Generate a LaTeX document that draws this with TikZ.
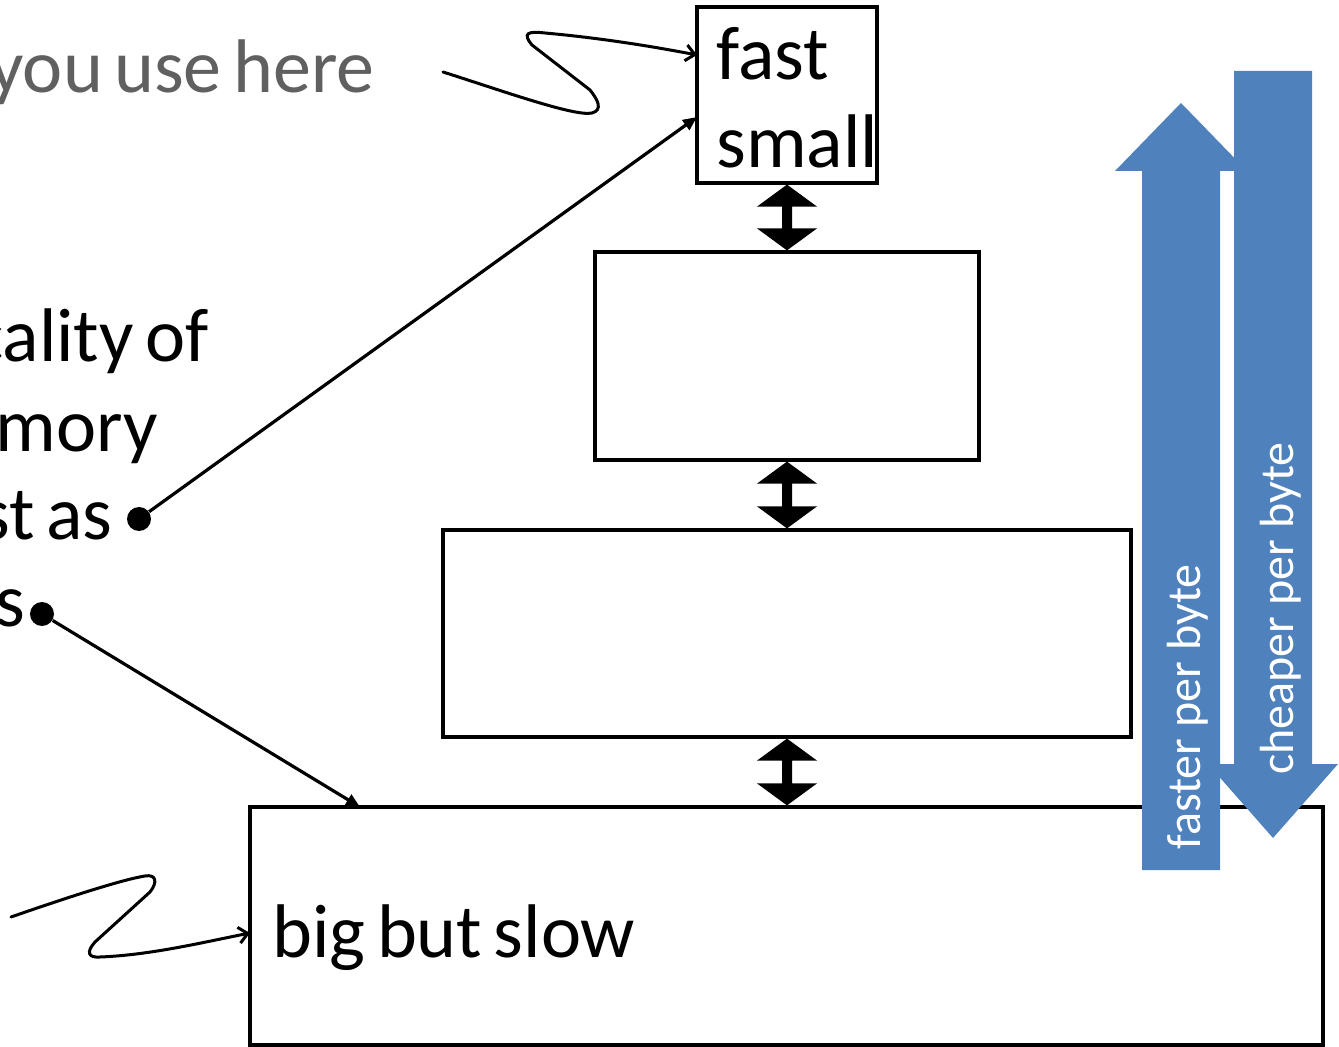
\documentclass[tikz,border=0pt]{standalone}
\usepackage{fontspec}
\setmainfont{Carlito}
\usetikzlibrary{arrows.meta,calc}
\definecolor{slateblue}{HTML}{4F81BD}
\definecolor{notegray}{HTML}{606060}
% large slide type with tighter word spacing
\newcommand{\slidetype}{\fontsize{38}{46}\selectfont\spaceskip 5.8pt\relax}
\tikzset{
  memlevel/.style={draw, line width=1.6pt, inner sep=0pt, fill=none},
  bigtext/.style={inner sep=0pt, font=\slidetype},
  bandtext/.style={inner sep=0pt, text=white, rotate=90, anchor=base west,
                   font=\fontsize{24}{29}\selectfont},
  dot/.style={circle, fill=black, inner sep=0pt, minimum size=12pt},
  pointer/.style={line width=1.6pt, -{Triangle[length=7pt,width=6pt]}},
  squiggle/.style={line width=1.5pt, line cap=round,
                   -{Straight Barb[length=4.5pt,width=8pt]}},
  transfer/.style={fill=black},
}
% double-headed block arrow between the bottom of one level and the top of the next
\newcommand{\levellink}[2]{%
  \fill[transfer] let \p1=(#1.south), \p2=(#2.north) in
    (\x1,\y1) -- (\x1+15pt,\y1-11pt) -- (\x1+2.5pt,\y1-11pt)
    -- (\x1+2.5pt,\y2+11pt) -- (\x1+15pt,\y2+11pt) -- (\x1,\y2)
    -- (\x1-15pt,\y2+11pt) -- (\x1-2.5pt,\y2+11pt)
    -- (\x1-2.5pt,\y1-11pt) -- (\x1-15pt,\y1-11pt) -- cycle;}
\begin{document}
\begin{tikzpicture}[x=0.5pt,y=-0.5pt]
\useasboundingbox (0,0) rectangle (1339,1047);
\clip (0,0) rectangle (1339,1047);
\fill[white] (0,0) rectangle (1339,1047);

% memory levels
\node[memlevel, minimum width=90pt, minimum height=88pt] (fast) at (787,95) {};
\node[memlevel, minimum width=192pt, minimum height=104pt] (mid) at (787,356) {};
\node[memlevel, minimum width=344pt, minimum height=103.5pt] (low) at (787,633.5) {};
\node[memlevel, minimum width=536.5pt, minimum height=119pt] (big) at (786.5,926) {};

\node[bigtext, anchor=base west] (fastlbl) at (716,80) {fast};
\node[bigtext, anchor=base west] (smalllbl) at (716,168) {small};
\node[bigtext, anchor=base west] (biglbl) at (272,957) {big but slow};

% transfers between adjacent levels
\levellink{fast}{mid}
\levellink{mid}{low}
\levellink{low}{big}

% side bands
\fill[slateblue] (1142,870) -- (1142,171) -- (1115,171) -- (1181,103)
  -- (1247,171) -- (1220,171) -- (1220,870) -- cycle;
\fill[slateblue] (1234,71) -- (1312,71) -- (1312,764) -- (1338,764)
  -- (1273,838) -- (1208,764) -- (1234,764) -- cycle;
\node[bandtext] (faster) at (1200,850) {faster per byte};
\node[bandtext] (cheaper) at (1293,775) {cheaper per byte};

% text on the left
\node[bigtext, anchor=base east, text=notegray] (usehere) at (375,93) {you use here};
\node[bigtext, anchor=base east] (line1) at (209,362) {cality of};
\node[bigtext, anchor=base east] (line2) at (158,452) {emory};
\node[bigtext, anchor=base east] (line3) at (113,540) {st as};
\node[bigtext, anchor=base east] (line4) at (26,627) {s};

% bullets and pointers
\node[dot] (d1) at (139,519) {};
\node[dot] (d2) at (42,614) {};
\coordinate (fastin) at (697,117);
\coordinate (bigin) at (360,807);
\draw[pointer] (d1) -- (fastin);
\draw[pointer] (d2) -- (bigin);

% squiggly arrows
\coordinate (sq1) at (443,72);
\coordinate (fasttop) at (697,55);
\draw[squiggle] (sq1) .. controls (500,90) and (575,117) .. (592,113)
  .. controls (603,110) and (598,100) .. (590,90) -- (532,45)
  .. controls (522,33) and (528,31) .. (545,33)
  .. controls (600,38) and (650,46) .. (fasttop);
\coordinate (sq2) at (11,917);
\coordinate (bigleft) at (250,933);
\draw[squiggle] (sq2) .. controls (60,900) and (120,880) .. (145,876)
  .. controls (156,874) and (158,882) .. (150,892) -- (95,942)
  .. controls (86,952) and (88,958) .. (100,957)
  .. controls (150,955) and (200,943) .. (bigleft);
\end{tikzpicture}
\end{document}
